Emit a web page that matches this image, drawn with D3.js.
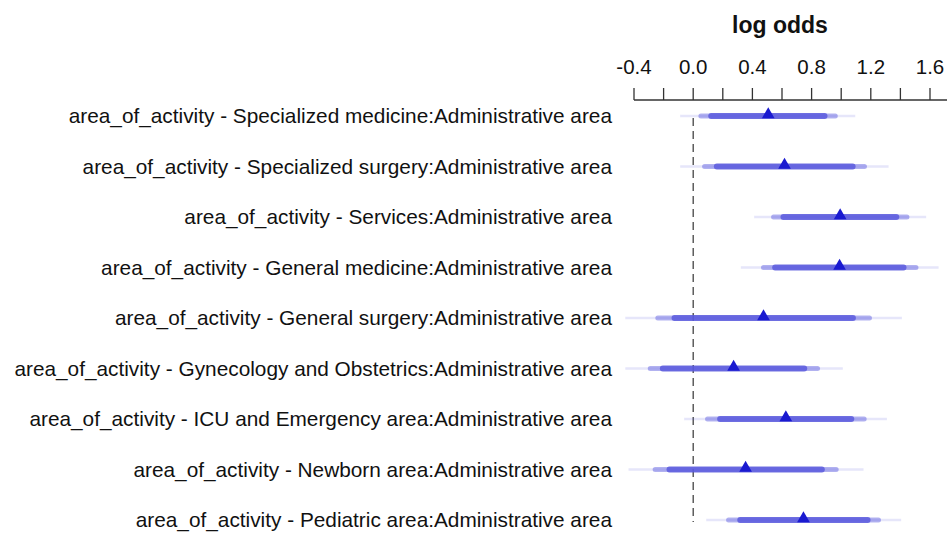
<!DOCTYPE html>
<html><head><meta charset="utf-8">
<script src="https://cdn.jsdelivr.net/npm/d3@7"></script>
<style>body{margin:0;background:#fff}svg{display:block}text{font-family:"Liberation Sans",Arial,sans-serif}</style>
</head><body><svg id="c" width="947" height="542"></svg>
<script>
const labels = [
 "area_of_activity - Specialized medicine:Administrative area",
 "area_of_activity - Specialized surgery:Administrative area",
 "area_of_activity - Services:Administrative area",
 "area_of_activity - General medicine:Administrative area",
 "area_of_activity - General surgery:Administrative area",
 "area_of_activity - Gynecology and Obstetrics:Administrative area",
 "area_of_activity - ICU and Emergency area:Administrative area",
 "area_of_activity - Newborn area:Administrative area",
 "area_of_activity - Pediatric area:Administrative area"
];
const estimate = [0.507,0.617,0.993,0.989,0.475,0.273,0.626,0.354,0.745];
const outerLo = [-0.088,-0.088,0.412,0.322,-0.459,-0.459,-0.061,-0.437,0.088];
const outerHi = [1.095,1.320,1.574,1.658,1.410,1.011,1.309,1.151,1.405];
const midLo = [0.052,0.077,0.543,0.475,-0.239,-0.290,0.097,-0.257,0.239];
const midHi = [0.960,1.157,1.444,1.505,1.191,0.840,1.155,0.966,1.252];
const innerLo = [0.122,0.160,0.610,0.554,-0.126,-0.205,0.182,-0.160,0.318];
const innerHi = [0.887,1.077,1.372,1.421,1.079,0.750,1.068,0.869,1.178];
const majorTicks = ["-0.4","0.0","0.4","0.8","1.2","1.6"];
const minorTicks = [-0.4,-0.2,0,0.2,0.4,0.6,0.8,1.0,1.2,1.4,1.6];

const svg = d3.select("#c");
const x = d3.scaleLinear().domain([-0.4,1.6]).range([634,930]);
const y = d3.scalePoint().domain(d3.range(labels.length)).range([116,520]);

// title
svg.append("text").attr("x",780).attr("y",33).attr("text-anchor","middle")
  .attr("font-size",23).attr("font-weight","bold").attr("fill","#111").text("log odds");

// axis
const ax = svg.append("g");
ax.append("line").attr("x1",x(-0.4)).attr("x2",947).attr("y1",100).attr("y2",100)
  .attr("stroke","#333").attr("stroke-width",1.3);
ax.selectAll(".tk").data(minorTicks).join("line")
  .attr("x1",d=>x(d)).attr("x2",d=>x(d)).attr("y1",88).attr("y2",100)
  .attr("stroke","#333").attr("stroke-width",1.3);
ax.selectAll(".tl").data(majorTicks).join("text")
  .attr("x",d=>x(+d)).attr("y",74).attr("text-anchor","middle")
  .attr("font-size",20.5).attr("fill","#111").text(d=>d);

// zero line
svg.append("line").attr("x1",x(0)).attr("x2",x(0)).attr("y1",118).attr("y2",522)
  .attr("stroke","#444").attr("stroke-width",1.3).attr("stroke-dasharray","8,5");

// labels
svg.selectAll(".lab").data(labels).join("text")
  .attr("x",612).attr("y",(d,i)=>y(i)+7).attr("text-anchor","end")
  .attr("font-size",20.8).attr("fill","#111").text(d=>d);

const idx = d3.range(labels.length);
svg.selectAll(".o").data(idx).join("line")
  .attr("x1",i=>x(outerLo[i])).attr("x2",i=>x(outerHi[i]))
  .attr("y1",i=>y(i)).attr("y2",i=>y(i))
  .attr("stroke","#5555dd").attr("stroke-opacity",0.15).attr("stroke-width",2.5);
svg.selectAll(".m").data(idx).join("line")
  .attr("x1",i=>x(midLo[i])).attr("x2",i=>x(midHi[i]))
  .attr("y1",i=>y(i)).attr("y2",i=>y(i))
  .attr("stroke","#5555dd").attr("stroke-opacity",0.45).attr("stroke-width",5).attr("stroke-linecap","round");
svg.selectAll(".n").data(idx).join("line")
  .attr("x1",i=>x(innerLo[i])).attr("x2",i=>x(innerHi[i]))
  .attr("y1",i=>y(i)).attr("y2",i=>y(i))
  .attr("stroke","#5a5add").attr("stroke-opacity",0.85).attr("stroke-width",6).attr("stroke-linecap","round");
svg.selectAll(".p").data(idx).join("path")
  .attr("transform",i=>`translate(${x(estimate[i])},${y(i)-1.5})`)
  .attr("d",d3.symbol(d3.symbolTriangle2,115))
  .attr("fill","#1a1ad0");
</script></body></html>
